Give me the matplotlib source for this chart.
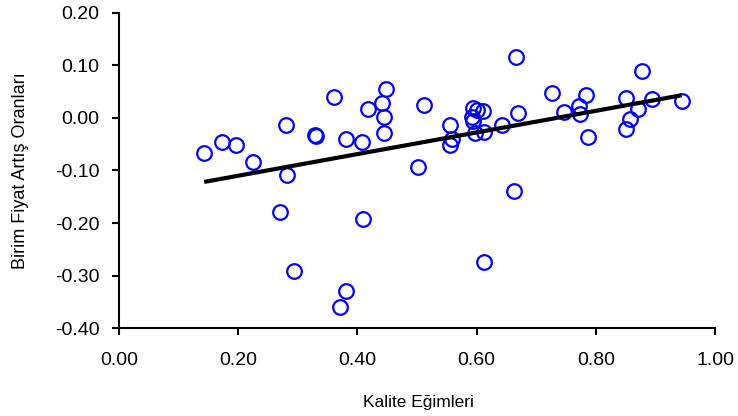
import numpy as np
import matplotlib
matplotlib.use("Agg")
import matplotlib.pyplot as plt

plt.rcParams['font.family'] = ['Liberation Sans', 'DejaVu Sans']

# quality slopes (x) and unit price growth rates (y)
kalite = [0.143, 0.173, 0.196, 0.224, 0.270, 0.280, 0.282, 0.293,
          0.329, 0.331, 0.361, 0.371, 0.380, 0.381, 0.407, 0.410,
          0.417, 0.441, 0.444, 0.444, 0.448, 0.501, 0.511, 0.555,
          0.558, 0.555, 0.594, 0.600, 0.610, 0.592, 0.594, 0.598,
          0.612, 0.612, 0.643, 0.663, 0.666, 0.669, 0.726, 0.746,
          0.771, 0.773, 0.783, 0.786, 0.850, 0.851, 0.857, 0.870,
          0.877, 0.894, 0.944]
fiyat = [-0.067, -0.045, -0.052, -0.083, -0.178, -0.014, -0.108, -0.292,
         -0.033, -0.035, 0.039, -0.360, -0.040, -0.330, -0.045, -0.193,
         0.017, 0.028, 0.002, -0.029, 0.055, -0.093, 0.024, -0.014,
         -0.040, -0.052, 0.018, 0.015, 0.013, 0.001, -0.006, -0.028,
         -0.026, -0.273, -0.014, -0.139, 0.116, 0.009, 0.047, 0.012,
         0.022, 0.008, 0.043, -0.036, 0.037, -0.022, -0.002, 0.016,
         0.089, 0.036, 0.032]

x_ticks = [0.0, 0.2, 0.4, 0.6, 0.8, 1.0]
y_ticks = [-0.4, -0.3, -0.2, -0.1, 0.0, 0.1, 0.2]

fig = plt.figure(figsize=(7.38, 4.16), dpi=100)
ax = fig.add_axes([0.1612, 0.2108, 0.8078, 0.7587])

x = np.array(kalite)
y = np.array(fiyat)
ax.plot(x, y, 'o', ms=10.5, mfc='none', mec='#0000ff', mew=1.6, zorder=2)

# linear trend line over the data range
b, a = np.polyfit(x, y, 1)
xl = np.array([x.min(), x.max()])
ax.plot(xl, a + b * xl, color='black', lw=3, solid_capstyle='butt', zorder=3)

ax.set_xlim(0, 1.0)
ax.set_ylim(-0.4, 0.2)
ax.set_xticks(x_ticks)
ax.set_yticks(y_ticks)
ax.set_xticklabels([f"{v:.2f}" for v in x_ticks], fontsize=14)
ax.set_yticklabels([f"{v:.2f}" for v in y_ticks], fontsize=14)
ax.tick_params(direction='out', length=5, width=1.5)
ax.tick_params(axis='x', pad=12)
ax.tick_params(axis='y', pad=9)

for s in ['top', 'right']:
    ax.spines[s].set_visible(False)
for s in ['left', 'bottom']:
    ax.spines[s].set_linewidth(1.5)

ax.set_xlabel("Kalite Eğimleri", fontsize=12.5, va='center')
ax.set_ylabel("Birim Fiyat Artış Oranları", fontsize=13, va='center')
ax.xaxis.set_label_coords(0.503, -0.236)
ax.yaxis.set_label_coords(-0.166, 0.5)

fig.savefig("out.png", dpi=100)
